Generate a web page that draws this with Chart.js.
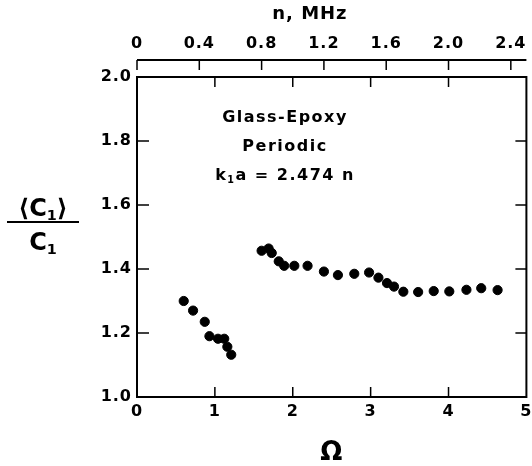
<!DOCTYPE html>
<html>
<head>
<meta charset="utf-8">
<script src="https://cdn.jsdelivr.net/npm/chart.js@4/dist/chart.umd.min.js"></script>
<style>
  html, body { margin: 0; padding: 0; background: #fff; }
  #wrap { position: relative; width: 532px; height: 466px; }
  canvas { position: absolute; left: 0; top: 0; }
  .lbl { position: absolute; font-family: "DejaVu Sans", sans-serif; font-weight: bold; color: #000; white-space: nowrap; }
  .lbl sub { font-size: 60%; line-height: 0; vertical-align: -0.3em; }
</style>
</head>
<body>
<div id="wrap">
  <canvas id="chart" width="532" height="466"></canvas>
  <!-- annotation inside the plot -->
  <div class="lbl" style="left:185px; top:102px; width:200px; text-align:center; font-size:16px; line-height:29px; letter-spacing:1.5px;">
    Glass-Epoxy<br>Periodic<br>k<sub>1</sub>a = 2.474 n
  </div>
  <!-- y axis title as a fraction -->
  <div class="lbl" style="left:7px; top:195px; width:72px; text-align:center; font-size:24px;">
    <div style="height:26px; line-height:26px; border-bottom:2px solid #000;">⟨C<sub>1</sub>⟩</div>
    <div style="height:26px; line-height:26px; margin-top:6px;">C<sub>1</sub></div>
  </div>
</div>
<script>
// values
const omegaA = [0.60, 0.72, 0.87, 0.93, 1.04, 1.12, 1.16, 1.21];
const ratioA = [1.300, 1.270, 1.235, 1.190, 1.182, 1.182, 1.157, 1.132];
const omegaB = [1.60, 1.69, 1.73, 1.82, 1.89, 2.02, 2.19, 2.40, 2.58, 2.79, 2.98,
                3.10, 3.21, 3.30, 3.42, 3.61, 3.81, 4.01, 4.23, 4.42, 4.63];
const ratioB = [1.457, 1.464, 1.450, 1.424, 1.410, 1.410, 1.410, 1.392, 1.381, 1.385, 1.389,
                1.373, 1.356, 1.345, 1.329, 1.328, 1.331, 1.330, 1.335, 1.340, 1.334];

const omegaTicks = [0, 1, 2, 3, 4, 5];
const nTicks = [0, 0.4, 0.8, 1.2, 1.6, 2.0, 2.4];
const ratioTicks = [1.0, 1.2, 1.4, 1.6, 1.8, 2.0];

const FAMILY = '"DejaVu Sans", sans-serif';
const tickFont = { family: FAMILY, weight: 'bold', size: 16 };

const toPoints = (xs, ys) => xs.map((x, i) => ({ x: x, y: ys[i] }));

// box, inner ticks and the detached n axis line
const framePlugin = {
  id: 'frame',
  beforeDraw(chart) {
    chart.ctx.letterSpacing = '1px';
  },
  afterDatasetsDraw(chart) {
    const { ctx, chartArea: a, scales } = chart;
    ctx.save();
    ctx.strokeStyle = '#000';
    ctx.lineWidth = 2;
    ctx.strokeRect(a.left, a.top, a.right - a.left, a.bottom - a.top);
    ctx.lineWidth = 1.5;
    ctx.beginPath();
    omegaTicks.slice(1, -1).forEach(v => {
      const x = scales.x.getPixelForValue(v);
      ctx.moveTo(x, a.bottom); ctx.lineTo(x, a.bottom - 10);
      ctx.moveTo(x, a.top); ctx.lineTo(x, a.top + 10);
    });
    ratioTicks.slice(1, -1).forEach(v => {
      const y = scales.y.getPixelForValue(v);
      ctx.moveTo(a.left, y); ctx.lineTo(a.left + 12, y);
      ctx.moveTo(a.right, y); ctx.lineTo(a.right - 11, y);
    });
    ctx.stroke();
    const ny = a.top - 17;
    ctx.lineWidth = 2;
    ctx.beginPath();
    ctx.moveTo(a.left, ny); ctx.lineTo(a.right, ny);
    ctx.stroke();
    ctx.lineWidth = 1.5;
    ctx.beginPath();
    nTicks.forEach(v => {
      const x = scales.n.getPixelForValue(v);
      ctx.moveTo(x, ny); ctx.lineTo(x, ny + 10);
    });
    ctx.stroke();
    ctx.restore();
  }
};

new Chart(document.getElementById('chart'), {
  type: 'scatter',
  data: {
    datasets: [
      { data: toPoints(omegaA, ratioA), backgroundColor: '#000', borderColor: '#000', pointRadius: 4.6, pointHoverRadius: 4.6 },
      { data: toPoints(omegaB, ratioB), backgroundColor: '#000', borderColor: '#000', pointRadius: 4.6, pointHoverRadius: 4.6 }
    ]
  },
  options: {
    responsive: false,
    animation: false,
    devicePixelRatio: 1,
    layout: { padding: { left: 0, right: 2, top: 0, bottom: 0 } },
    plugins: { legend: { display: false }, tooltip: { enabled: false } },
    scales: {
      x: {
        type: 'linear', position: 'bottom', min: 0, max: 5,
        afterBuildTicks: s => { s.ticks = omegaTicks.map(v => ({ value: v })); },
        afterFit: s => { s.paddingRight = 0; s.height = 69; },
        grid: { display: false, drawTicks: false },
        border: { display: false },
        ticks: { font: tickFont, color: '#000', padding: 5, maxRotation: 0, autoSkip: false,
                 callback: v => String(v) },
        title: { display: true, text: 'Ω', color: '#000',
                 font: { family: FAMILY, weight: 'bold', size: 26, lineHeight: 1 }, padding: { top: 0, bottom: 0 } }
      },
      n: {
        type: 'linear', axis: 'x', position: 'top', min: 0, max: 2.5,
        afterBuildTicks: s => { s.ticks = nTicks.map(v => ({ value: v })); },
        afterFit: s => { s.paddingRight = 0; s.paddingLeft = 0; s.height = 77; },
        grid: { display: false, drawTicks: false },
        border: { display: false },
        ticks: { font: tickFont, color: '#000', padding: 24, maxRotation: 0, autoSkip: false,
                 callback: v => (v === 0 ? '0' : v.toFixed(1)) },
        title: { display: true, text: 'n, MHz      ', color: '#000',
                 font: { family: FAMILY, weight: 'bold', size: 18 }, padding: { top: 4, bottom: 0 } }
      },
      y: {
        type: 'linear', position: 'left', min: 1.0, max: 2.0,
        afterBuildTicks: s => { s.ticks = ratioTicks.map(v => ({ value: v })); },
        afterFit: s => { s.width = 137; },
        grid: { display: false, drawTicks: false },
        border: { display: false },
        ticks: { font: tickFont, color: '#000', padding: 5, autoSkip: false,
                 callback: v => v.toFixed(1) }
      }
    }
  },
  plugins: [framePlugin]
});
</script>
</body>
</html>
